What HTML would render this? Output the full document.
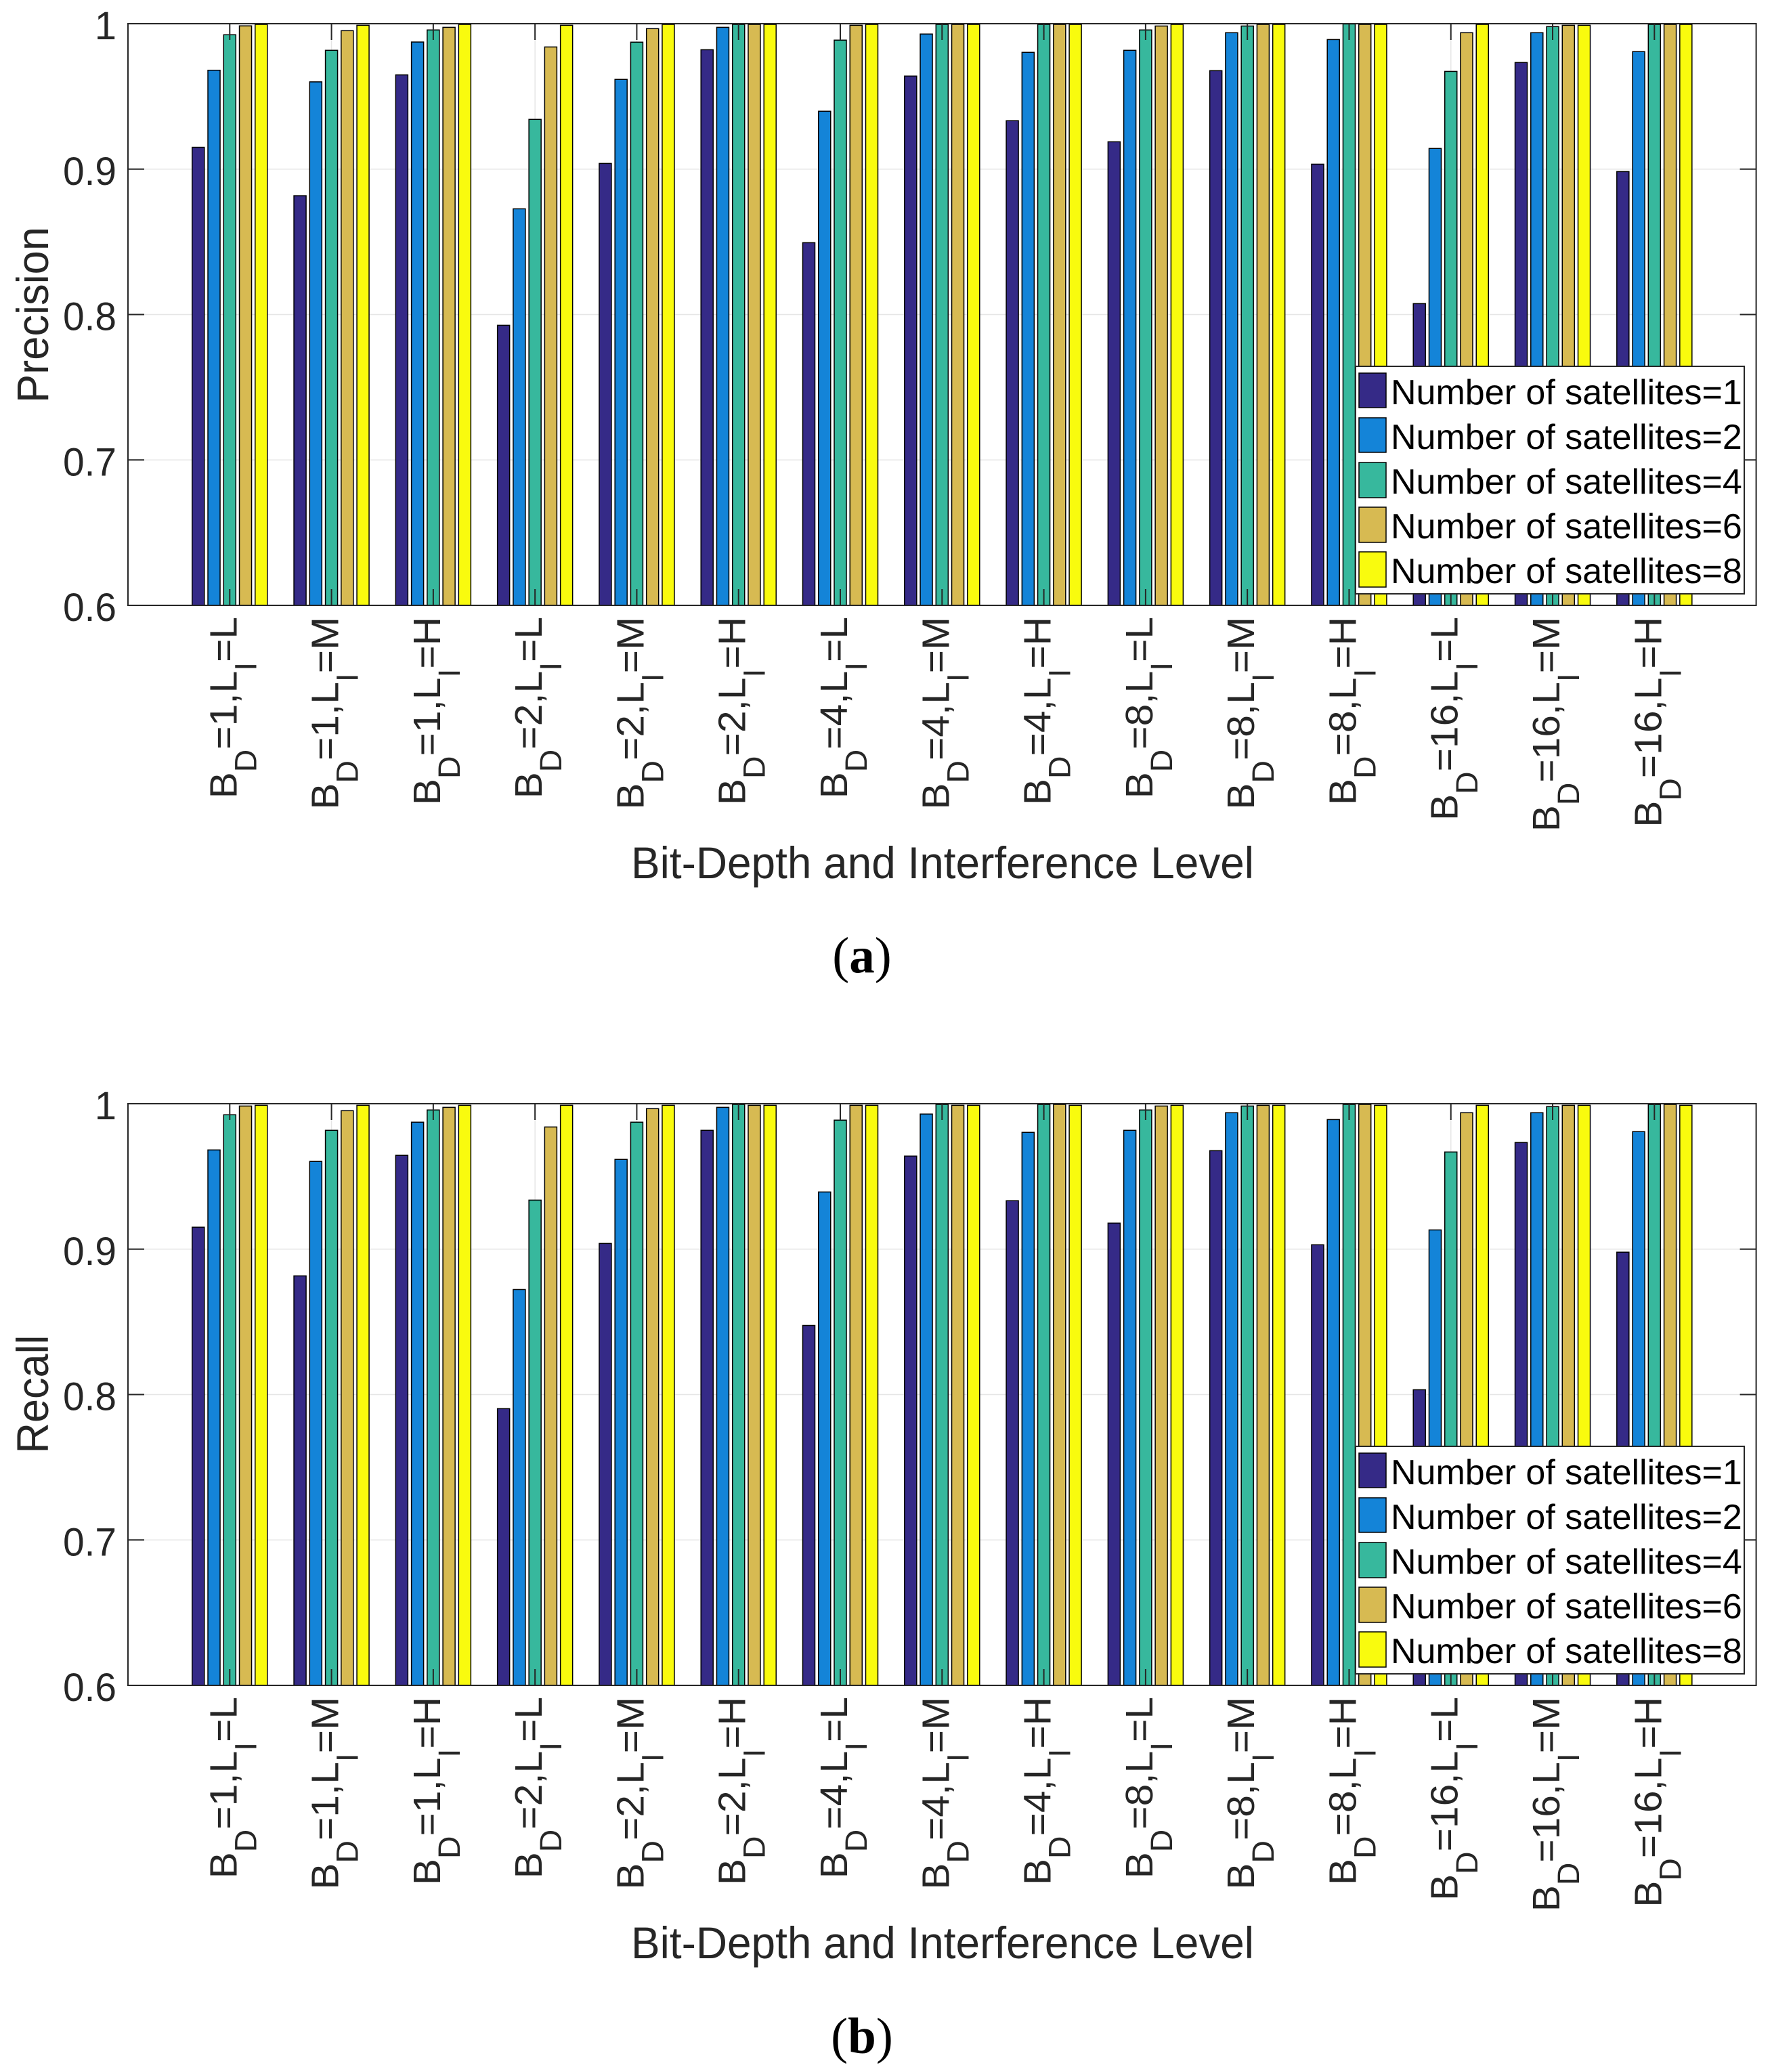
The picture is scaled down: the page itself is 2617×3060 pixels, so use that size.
<!DOCTYPE html>
<html lang="en">
<head>
<meta charset="utf-8">
<title>Precision and Recall by Bit-Depth and Interference Level</title>
<style>
  html, body { margin: 0; padding: 0; background: #ffffff; }
  svg { display: block; }
  text { font-family: "Liberation Sans", sans-serif; }
  .axis-text { fill: #262626; }
  .legend-text { fill: #000000; font-size: 52px; }
  .axis-title { fill: #262626; font-size: 66px; }
  .caption { font-family: "Liberation Serif", serif; font-size: 75px; fill: #000000; }
</style>
</head>
<body>
<svg id="figure" xmlns="http://www.w3.org/2000/svg" width="2617" height="3060" viewBox="0 0 2617 3060">
  <rect x="0" y="0" width="2617" height="3060" fill="#ffffff"/>

  <g id="panel-a"></g>
  <text class="axis-title" transform="translate(71,465) rotate(-90)" text-anchor="middle" textLength="260" lengthAdjust="spacingAndGlyphs">Precision</text>
  <text class="axis-title" x="1392" y="1297" text-anchor="middle" textLength="920" lengthAdjust="spacingAndGlyphs">Bit-Depth and Interference Level</text>
  <text class="caption" x="1273" y="1436" text-anchor="middle">(<tspan font-weight="bold">a</tspan>)</text>

  <g transform="translate(0,0)">
    <rect x="2002" y="541" width="574" height="336" fill="#ffffff" stroke="#262626" stroke-width="2"/>
    <rect x="2007" y="551" width="40" height="51" fill="#352a87" stroke="#000" stroke-width="1.5"/>
    <text class="legend-text" x="2054" y="597">Number of satellites=1</text>
    <rect x="2007" y="617" width="40" height="51" fill="#1484d8" stroke="#000" stroke-width="1.5"/>
    <text class="legend-text" x="2054" y="663">Number of satellites=2</text>
    <rect x="2007" y="683" width="40" height="52" fill="#37b89d" stroke="#000" stroke-width="1.5"/>
    <text class="legend-text" x="2054" y="729">Number of satellites=4</text>
    <rect x="2007" y="749" width="40" height="52" fill="#d7ba52" stroke="#000" stroke-width="1.5"/>
    <text class="legend-text" x="2054" y="795">Number of satellites=6</text>
    <rect x="2007" y="815" width="40" height="52" fill="#f9fb0e" stroke="#000" stroke-width="1.5"/>
    <text class="legend-text" x="2054" y="861">Number of satellites=8</text>
  </g>

  <g id="panel-b"></g>
  <text class="axis-title" transform="translate(71,2059) rotate(-90)" text-anchor="middle" textLength="175" lengthAdjust="spacingAndGlyphs">Recall</text>
  <text class="axis-title" x="1392" y="2892" text-anchor="middle" textLength="920" lengthAdjust="spacingAndGlyphs">Bit-Depth and Interference Level</text>
  <text class="caption" x="1273" y="3032" text-anchor="middle">(<tspan font-weight="bold">b</tspan>)</text>

  <g transform="translate(0,1595)">
    <rect x="2002" y="541" width="574" height="336" fill="#ffffff" stroke="#262626" stroke-width="2"/>
    <rect x="2007" y="551" width="40" height="51" fill="#352a87" stroke="#000" stroke-width="1.5"/>
    <text class="legend-text" x="2054" y="597">Number of satellites=1</text>
    <rect x="2007" y="617" width="40" height="51" fill="#1484d8" stroke="#000" stroke-width="1.5"/>
    <text class="legend-text" x="2054" y="663">Number of satellites=2</text>
    <rect x="2007" y="683" width="40" height="52" fill="#37b89d" stroke="#000" stroke-width="1.5"/>
    <text class="legend-text" x="2054" y="729">Number of satellites=4</text>
    <rect x="2007" y="749" width="40" height="52" fill="#d7ba52" stroke="#000" stroke-width="1.5"/>
    <text class="legend-text" x="2054" y="795">Number of satellites=6</text>
    <rect x="2007" y="815" width="40" height="52" fill="#f9fb0e" stroke="#000" stroke-width="1.5"/>
    <text class="legend-text" x="2054" y="861">Number of satellites=8</text>
  </g>
</svg>

<script>
// ---- chart data ----
const bitDepths = ['1','1','1','2','2','2','4','4','4','8','8','8','16','16','16'];
const interferenceLevels = ['L','M','H','L','M','H','L','M','H','L','M','H','L','M','H'];
const yTicks = [0.6, 0.7, 0.8, 0.9, 1];
const yTickLabels = ['0.6', '0.7', '0.8', '0.9', '1'];
const satelliteCounts = ['1', '2', '4', '6', '8'];

const precisionSat1 = [0.9150,0.8817,0.9648,0.7926,0.9039,0.9821,0.8494,0.9640,0.9333,0.9188,0.9677,0.9034,0.8075,0.9733,0.8983];
const precisionSat2 = [0.9680,0.9600,0.9874,0.8727,0.9617,0.9975,0.9398,0.9929,0.9803,0.9817,0.9938,0.9891,0.9142,0.9938,0.9808];
const precisionSat4 = [0.9924,0.9817,0.9957,0.9342,0.9873,0.9995,0.9887,0.9995,0.9995,0.9957,0.9984,0.9998,0.9672,0.9980,0.9995];
const precisionSat6 = [0.9985,0.9952,0.9975,0.9840,0.9966,0.9995,0.9989,0.9995,0.9995,0.9984,0.9995,0.9995,0.9938,0.9989,0.9995];
const precisionSat8 = [0.9995,0.9989,0.9995,0.9989,0.9995,0.9995,0.9995,0.9995,0.9995,0.9995,0.9995,0.9995,0.9995,0.9989,0.9995];

const recallSat1 = [0.9151,0.8816,0.9645,0.7903,0.9039,0.9817,0.8475,0.9640,0.9333,0.9179,0.9677,0.9030,0.8033,0.9733,0.8979];
const recallSat2 = [0.9682,0.9603,0.9873,0.8722,0.9617,0.9975,0.9393,0.9929,0.9803,0.9817,0.9938,0.9891,0.9132,0.9938,0.9808];
const recallSat4 = [0.9924,0.9817,0.9957,0.9337,0.9873,0.9995,0.9887,0.9995,0.9995,0.9957,0.9984,0.9995,0.9668,0.9980,0.9995];
const recallSat6 = [0.9984,0.9952,0.9975,0.9840,0.9966,0.9989,0.9989,0.9989,0.9995,0.9984,0.9989,0.9995,0.9938,0.9989,0.9995];
const recallSat8 = [0.9989,0.9989,0.9989,0.9989,0.9989,0.9989,0.9989,0.9989,0.9989,0.9989,0.9989,0.9989,0.9989,0.9989,0.9989];

const seriesColors = ['#352a87', '#1484d8', '#37b89d', '#d7ba52', '#f9fb0e'];

// ---- drawing ----
const SVG_NS = 'http://www.w3.org/2000/svg';
const AXIS_LEFT = 189;
const AXIS_RIGHT = 2593.6;
const AXIS_HEIGHT = 859;
const GROUP_STEP = (AXIS_RIGHT - AXIS_LEFT) / 16;
const BAR_STEP = 23.25;
const BAR_WIDTH = 18;
const TICK_LEN = 24;
const Y_MIN = 0.6;
const Y_MAX = 1;

function xScale(groupIndex) {
  return AXIS_LEFT + (groupIndex + 1) * GROUP_STEP;
}

function makeYScale(top) {
  return function (v) {
    return top + AXIS_HEIGHT - (v - Y_MIN) / (Y_MAX - Y_MIN) * AXIS_HEIGHT;
  };
}

function line(parent, x1, y1, x2, y2, color, width) {
  const el = document.createElementNS(SVG_NS, 'line');
  el.setAttribute('x1', x1);
  el.setAttribute('y1', y1);
  el.setAttribute('x2', x2);
  el.setAttribute('y2', y2);
  el.setAttribute('stroke', color);
  el.setAttribute('stroke-width', width);
  parent.appendChild(el);
  return el;
}

function drawPanel(panelId, prefix, seriesList, top) {
  const root = document.getElementById(panelId);
  const yScale = makeYScale(top);
  const bottom = top + AXIS_HEIGHT;

  // grid
  yTicks.forEach(function (t) {
    if (t === Y_MIN || t === Y_MAX) return;
    const g = line(root, AXIS_LEFT, yScale(t), AXIS_RIGHT, yScale(t), '#e6e6e6', 1.5);
    
    
  });
  bitDepths.forEach(function (d, i) {
    const g = line(root, xScale(i), top, xScale(i), bottom, '#e6e6e6', 1.5);
    
    
  });

  // bars
  seriesList.forEach(function (values, s) {
    values.forEach(function (v, i) {
      const bar = document.createElementNS(SVG_NS, 'rect');
      const cx = xScale(i) + (s - 2) * BAR_STEP;
      bar.setAttribute('x', cx - BAR_WIDTH / 2);
      bar.setAttribute('y', yScale(v));
      bar.setAttribute('width', BAR_WIDTH);
      bar.setAttribute('height', bottom - yScale(v));
      bar.setAttribute('fill', seriesColors[s]);
      bar.setAttribute('stroke', '#000000');
      bar.setAttribute('stroke-width', '1.5');
      
      
      root.appendChild(bar);
    });
  });

  // ticks on all four sides
  bitDepths.forEach(function (d, i) {
    const t1 = line(root, xScale(i), top, xScale(i), top + TICK_LEN, '#262626', 2);
    
    
    const t2 = line(root, xScale(i), bottom, xScale(i), bottom - TICK_LEN, '#262626', 2);
    
    
  });
  yTicks.forEach(function (t, i) {
    const y = yScale(t);
    const t1 = line(root, AXIS_LEFT, y, AXIS_LEFT + TICK_LEN, y, '#262626', 2);
    
    
    const t2 = line(root, AXIS_RIGHT, y, AXIS_RIGHT - TICK_LEN, y, '#262626', 2);
    
    

    const lab = document.createElementNS(SVG_NS, 'text');
    lab.setAttribute('class', 'axis-text');
    lab.setAttribute('x', 172);
    lab.setAttribute('y', y + 23);
    lab.setAttribute('text-anchor', 'end');
    lab.setAttribute('font-size', '58');
    if (yTickLabels[i].length > 1) {
      lab.setAttribute('textLength', '79');
      lab.setAttribute('lengthAdjust', 'spacingAndGlyphs');
    }
    lab.textContent = yTickLabels[i];
    
    
    root.appendChild(lab);
  });

  // axes box
  const box = document.createElementNS(SVG_NS, 'rect');
  box.setAttribute('x', AXIS_LEFT);
  box.setAttribute('y', top);
  box.setAttribute('width', AXIS_RIGHT - AXIS_LEFT);
  box.setAttribute('height', AXIS_HEIGHT);
  box.setAttribute('fill', 'none');
  box.setAttribute('stroke', '#262626');
  box.setAttribute('stroke-width', '2');
  
  
  root.appendChild(box);

  // rotated category labels
  bitDepths.forEach(function (d, i) {
    const t = document.createElementNS(SVG_NS, 'text');
    t.setAttribute('class', 'axis-text');
    t.setAttribute('text-anchor', 'end');
    t.setAttribute('font-size', '57');
    t.setAttribute('transform', 'translate(' + (xScale(i) + 10) + ',' + (bottom + 17) + ') rotate(-90) scale(1.03,1)');
    
    
    const parts = [
      ['B', 0, 57],
      ['D', 29, 45],
      ['=' + d + ',L', -29, 57],
      ['I', 29, 45],
      ['=' + interferenceLevels[i], -29, 57]
    ];
    parts.forEach(function (p) {
      const sp = document.createElementNS(SVG_NS, 'tspan');
      sp.setAttribute('dy', p[1]);
      sp.setAttribute('font-size', p[2]);
      sp.textContent = p[0];
      t.appendChild(sp);
    });
    root.appendChild(t);
  });
}

drawPanel('panel-a', 'precision', [precisionSat1, precisionSat2, precisionSat4, precisionSat6, precisionSat8], 35);
drawPanel('panel-b', 'recall', [recallSat1, recallSat2, recallSat4, recallSat6, recallSat8], 1630);
</script>
</body>
</html>
